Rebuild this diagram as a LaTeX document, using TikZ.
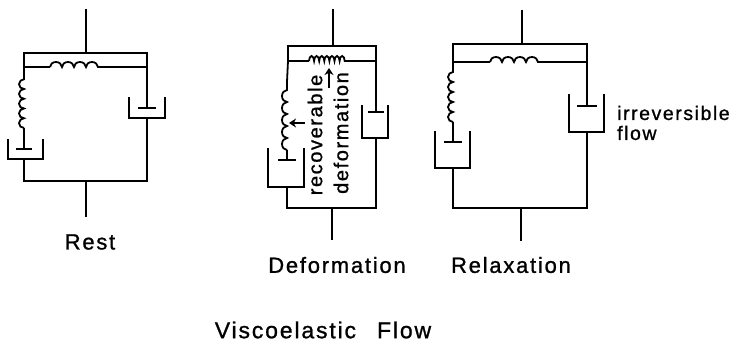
\documentclass[tikz,border=0pt]{standalone}
\usepackage{fontspec}
\setmainfont{Liberation Sans}
\newfontfamily\spacedfont[LetterSpace=8,FakeBold=1]{Liberation Sans}
\usetikzlibrary{decorations.pathmorphing,arrows.meta}

\tikzset{
  wire/.style={line width=1.8pt},
  coil/.style={wire, decorate, decoration={bumps, segment length=#1, amplitude=5pt}},
  bigtext/.style={font=\spacedfont\fontsize{22}{24}\selectfont},
  titletext/.style={font=\spacedfont\fontsize{23}{25}\selectfont},
  smalltext/.style={font=\spacedfont\fontsize{19.5}{20}\selectfont, align=left, inner sep=0},
  sidetext/.style={font=\spacedfont\fontsize{20}{22}\selectfont, inner sep=0, rotate=90},
  arrowup/.style={line width=2.6pt, -{Stealth[length=7pt,width=9pt]}}
}

% name, x, left of cup, right of cup, top, bottom, piston y, piston half width
\newcommand{\dashpot}[8]{
  \draw[wire] (#3,#5) -- (#3,#6) -- (#4,#6) -- (#4,#5);
  \draw[wire] (#2-#8,#7) -- (#2+#8,#7);
  \coordinate (#1p) at (#2,#7);
  \coordinate (#1b) at (#2,#6);
}

\begin{document}
\begin{tikzpicture}[x=1pt,y=-1pt]
\useasboundingbox (0,0) rectangle (731,343);

% rest
\coordinate (rt) at (86,9);
\coordinate (rtl) at (24,53);
\coordinate (rtm) at (86,53);
\coordinate (rtr) at (147,53);
\coordinate (rbl) at (24,67);
\coordinate (rbr) at (147,67);
\coordinate (rc1) at (50,67);
\coordinate (rc2) at (102,67);
\coordinate (rc3) at (24,76);
\coordinate (rc4) at (24,128);
\coordinate (rdl) at (24,181);
\coordinate (rdm) at (86,181);
\coordinate (rdr) at (147,181);
\coordinate (re) at (86,217);
\dashpot{ra}{24}{8}{43}{139}{159}{149}{8}
\dashpot{rb}{147}{129}{165}{97}{118}{108}{9}
\draw[wire] (rt) -- (rtm);
\draw[wire] (rbl) -- (rtl) -- (rtr) -- (rbr);
\draw[wire] (rbl) -- (rc1);
\draw[coil=24pt] (rc1) -- (rc2);
\draw[wire] (rc2) -- (rbr);
\draw[wire] (rbl) -- (rc3);
\draw[coil=19.5pt] (rc4) -- (rc3);
\draw[wire] (rc4) -- (rap);
\draw[wire] (rbr) -- (rbp);
\draw[wire] (rab) -- (rdl) -- (rdr) -- (rbb);
\draw[wire] (rdm) -- (re);
\node[bigtext] (rlabel) at (90,242) {Rest};

% deformation
\coordinate (dt) at (333,9);
\coordinate (dtl) at (288,46);
\coordinate (dtm) at (333,46);
\coordinate (dtr) at (376,46);
\coordinate (dbl) at (288,61);
\coordinate (dbr) at (376,61);
\coordinate (dc1) at (309,61);
\coordinate (dc2) at (345,61);
\coordinate (dc3) at (287,82);
\coordinate (dc4) at (287,150);
\coordinate (ddl) at (287,208);
\coordinate (ddm) at (332,208);
\coordinate (ddr) at (376,208);
\coordinate (de) at (332,240);
\dashpot{da}{287}{268}{304}{148}{187}{160}{9}
\dashpot{db}{376}{362}{388}{105}{138}{112}{8}
\draw[wire] (dt) -- (dtm);
\draw[wire] (dbl) -- (dtl) -- (dtr) -- (dbr);
\draw[wire] (dbl) -- (dc1);
\draw[coil=10.2pt] (dc1) -- (dc2);
\draw[wire] (dc2) -- (dbr);
\draw[wire] (dbl) -- (dc3);
\draw[coil=24pt] (dc4) -- (dc3);
\draw[wire] (dc4) -- (dap);
\draw[wire] (dbr) -- (dbp);
\draw[wire] (dab) -- (ddl) -- (ddr) -- (dbb);
\draw[wire] (ddm) -- (de);
\node[sidetext] (drec) at (315,135) {recoverable};
\node[sidetext] (ddef) at (341,133) {deformation};
\coordinate (dua) at (329,88);
\coordinate (dub) at (329,68);
\coordinate (dla) at (305,123);
\coordinate (dlb) at (289,123);
\draw[arrowup] (dua) -- (dub);
\draw[arrowup] (dla) -- (dlb);
\node[bigtext] (dlabel) at (337,265) {Deformation};

% relaxation
\coordinate (xt) at (522,10);
\coordinate (xtl) at (453,44);
\coordinate (xtm) at (522,44);
\coordinate (xtr) at (587,44);
\coordinate (xbl) at (453,62);
\coordinate (xbr) at (587,62);
\coordinate (xc1) at (490,62);
\coordinate (xc2) at (542,62);
\coordinate (xc3) at (453,68);
\coordinate (xc4) at (453,122);
\coordinate (xdl) at (453,208);
\coordinate (xdm) at (521,208);
\coordinate (xdr) at (587,208);
\coordinate (xe) at (521,241);
\dashpot{xa}{453}{435}{470}{131}{168}{142}{9}
\dashpot{xb}{587}{569}{604}{94}{132}{106}{10}
\draw[wire] (xt) -- (xtm);
\draw[wire] (xbl) -- (xtl) -- (xtr) -- (xbr);
\draw[wire] (xbl) -- (xc1);
\draw[coil=24pt] (xc1) -- (xc2);
\draw[wire] (xc2) -- (xbr);
\draw[wire] (xbl) -- (xc3);
\draw[coil=20pt] (xc4) -- (xc3);
\draw[wire] (xc4) -- (xap);
\draw[wire] (xbr) -- (xbp);
\draw[wire] (xab) -- (xdl) -- (xdr) -- (xbb);
\draw[wire] (xdm) -- (xe);
\node[smalltext, anchor=west] (xflow) at (617,123) {irreversible\\flow};
\node[bigtext] (xlabel) at (511,265) {Relaxation};

\node[titletext] (title) at (323,330) {Viscoelastic\hspace{21pt}Flow};
\end{tikzpicture}
\end{document}
